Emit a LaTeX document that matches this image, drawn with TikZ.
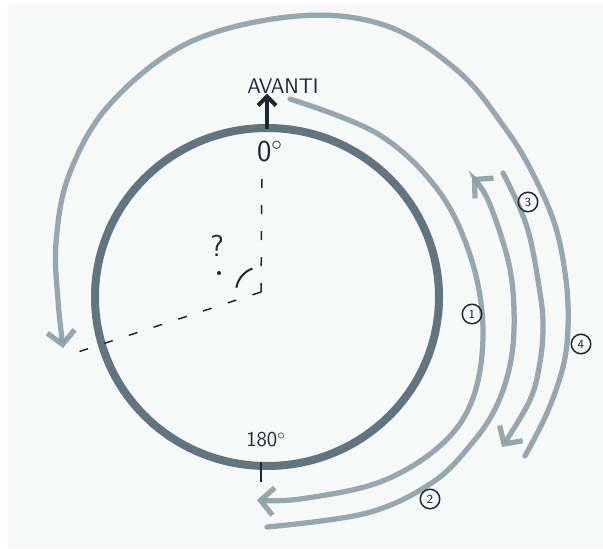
\documentclass[tikz,border=0pt]{standalone}
\usetikzlibrary{arrows.meta, positioning}

\definecolor{ringcol}{RGB}{96,117,127}
\definecolor{pencil}{RGB}{140,159,167}
\definecolor{ink}{RGB}{28,42,48}
\definecolor{paper}{RGB}{247,248,248}

\begin{document}
\begin{tikzpicture}[
    x=0.2mm, y=-0.2mm,
    ring/.style={draw=ringcol, line width=1.6mm},
    stroke/.style={draw=pencil, line width=1.05mm, line cap=round, opacity=0.9},
    arrow/.style={stroke, -{Straight Barb[length=2.6mm, width=5.5mm]}},
    guide/.style={draw=ink, line width=0.3mm, dash pattern=on 1.8mm off 3.4mm},
    lbl/.style={text=ink, font=\sffamily, inner sep=0pt},
    num/.style={circle, draw=ink, line width=0.3mm, text=ink,
                font=\sffamily\scriptsize, inner sep=0pt, minimum size=3.9mm}
  ]
    % paper
    \fill[white] (0,0) rectangle (603,548);
    \fill[paper] (8,3) rectangle (603,548);
    \useasboundingbox (0,0) rectangle (603,548);

    % wheel
    \draw[ring] (267,297) ellipse [x radius=172, y radius=169];

    % labels
    \node[lbl, font=\sffamily\large] (avanti) at (283,86) {AVANTI};
    \node[lbl, font=\sffamily\LARGE] (zero) at (270,152) {0$^\circ$};
    \node[lbl, font=\sffamily\large] (half) at (266,440) {180$^\circ$};
    \node[lbl, font=\sffamily\LARGE] (qm) at (217,246) {?};

    % reference marks
    \coordinate (top) at (267,129);
    \coordinate (ctr) at (261,292);
    \coordinate (lft) at (78,352);
    \coordinate (zdash) at (262,170);
    \draw[ink, line width=0.8mm, -{Straight Barb[length=1.8mm, width=3.6mm]}]
        (top) -- (avanti.south -| top);
    \draw[guide] (ctr) -- (zdash);
    \draw[guide] (ctr) -- (lft);
    \draw[ink, line width=0.4mm] (261,462) -- (261,482);
    \draw[ink, line width=0.4mm] (ctr) ++(-110:25) arc[start angle=-110, end angle=-170, radius=25];
    \fill[ink] (219,273) circle[radius=2];

    % pencil arrows
    \draw[arrow] plot[smooth, tension=0.6] coordinates {(290,99) (378,134) (438,190)
        (471,258) (483,330) (473,398) (441,445) (380,482) (300,499) (257,500)};
    \draw[arrow] plot[smooth, tension=0.6] coordinates {(267,527) (367,513) (433,482) (473,442)
        (497,405) (511,360) (514,310) (508,260) (488,200) (472,177)};
    \draw[arrow] plot[smooth, tension=0.6] coordinates {(503,173) (527,227) (540,293) (543,327)
        (540,362) (530,400) (502,447)};
    \draw[arrow] plot[smooth, tension=0.6] coordinates {(525,456) (547,413) (563,367) (568,327)
        (566,280) (555,225) (532,172) (505,128) (459,72) (387,26) (298,16) (190,42)
        (110,104) (69,175) (56,243) (58,300) (63,348)};

    % step numbers
    \node[num] (n1) at (472,314) {1};
    \node[num] (n2) at (430,499) {2};
    \node[num] (n3) at (528,202) {3};
    \node[num] (n4) at (581,344) {4};
\end{tikzpicture}
\end{document}
